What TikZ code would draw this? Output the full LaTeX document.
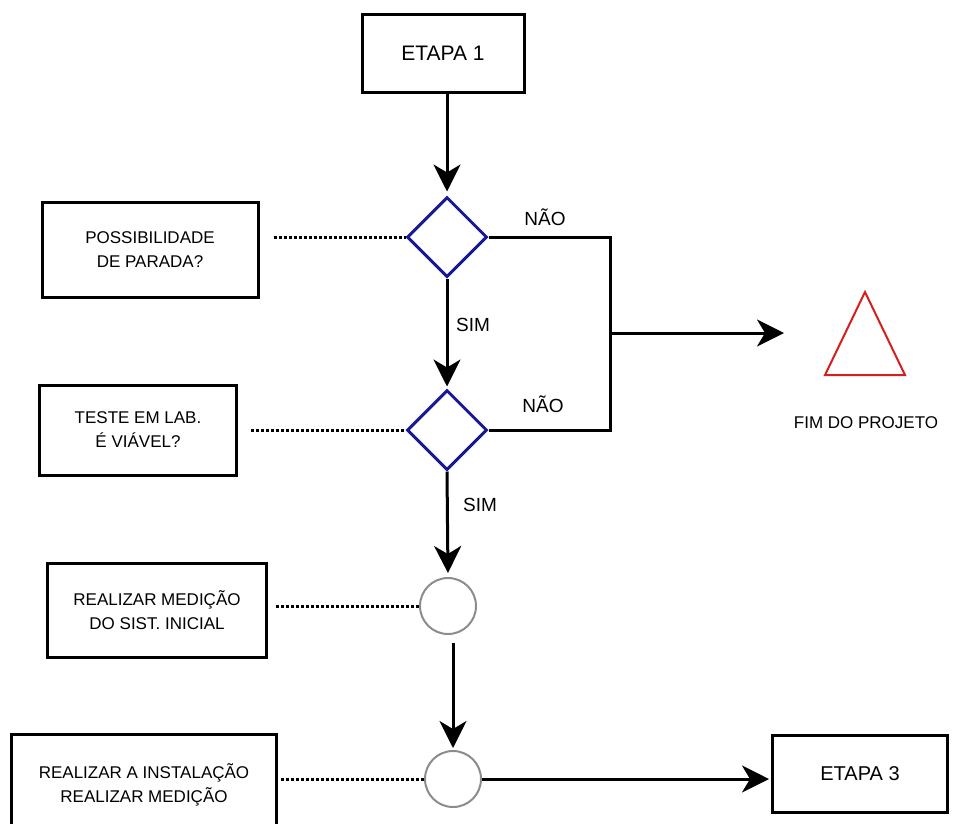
\documentclass[tikz,border=0pt]{standalone}
\usepackage{fontspec}
\setmainfont{Liberation Sans}
\usetikzlibrary{arrows.meta,shapes.geometric}
\definecolor{azul}{RGB}{25,25,150}
\definecolor{vermelho}{RGB}{215,30,30}
\definecolor{cinza}{RGB}{140,140,140}

\begin{document}
\begin{tikzpicture}[x=1pt,y=-1pt,
    caixa/.style={draw,line width=3pt,inner sep=0pt,align=center,font=\fontsize{17}{24}\selectfont},
    decisao/.style={diamond,draw=azul,line width=3pt,minimum width=80pt,minimum height=80pt,inner sep=0pt},
    evento/.style={circle,draw=cinza,line width=2pt,minimum size=56pt,inner sep=0pt},
    fluxo/.style={line width=3pt,-{Stealth[length=27pt,width=27pt,inset=8pt]}},
    liga/.style={line width=3pt},
    pontos/.style={line width=3pt,dash pattern=on 3pt off 2pt},
    rotulo/.style={font=\fontsize{19}{19}\selectfont}]
\useasboundingbox (0,0) rectangle (965,823);

% etapas
\node [caixa,minimum width=162pt,minimum height=78pt,font=\fontsize{21}{21}\selectfont] (etapa1) at (443,53) {ETAPA 1};
\node [caixa,minimum width=175pt,minimum height=77pt,font=\fontsize{20}{20}\selectfont] (etapa3) at (860,774) {ETAPA 3};

% perguntas
\node [caixa,minimum width=216pt,minimum height=95pt] (parada) at (150,250) {POSSIBILIDADE\\DE PARADA?};
\node [caixa,minimum width=197pt,minimum height=90pt] (teste) at (138,430) {TESTE EM LAB.\\É VIÁVEL?};
\node [caixa,minimum width=219pt,minimum height=94pt] (medicao) at (157,610) {REALIZAR MEDIÇÃO\\DO SIST. INICIAL};
\node [caixa,minimum width=265pt,minimum height=102pt] (instala) at (144,785) {REALIZAR A INSTALAÇÃO\\REALIZAR MEDIÇÃO};

% decisoes e eventos
\node [decisao] (d1) at (447,237) {};
\node [decisao] (d2) at (447,430) {};
\node [evento] (c1) at (448,606) {};
\node [evento] (c2) at (453,779) {};

% fim do projeto
\draw [draw=vermelho,line width=2pt,line join=miter] (825,375) -- (865,292) -- (905,375) -- cycle;
\node [font=\fontsize{17}{17}\selectfont] (fimtxt) at (866,423) {FIM DO PROJETO};
\coordinate (saida) at (612,333);
\coordinate (fimseta) at (784,333);

% ligacoes
\draw [fluxo,shorten >=4pt] (etapa1.south -| d1.north) -- (d1.north);
\draw [pontos,shorten <=14pt] (parada.east |- d1.west) -- (d1.west);
\draw [liga] (d1.east) -- ++(122,0) |- (d2.east);
\draw [fluxo] (saida) -- (fimseta);
\draw [fluxo,shorten >=2pt] (d1.south) -- (d2.north);
\draw [pontos,shorten <=13pt] (teste.east |- d2.west) -- (d2.west);
\draw [fluxo,shorten >=4pt] (d2.south) -- (c1.north);
\draw [pontos,shorten <=8pt] (medicao.east |- c1.west) -- (c1.west);
\draw [fluxo,shorten <=8pt,shorten >=2pt] (c1.south -| c2.north) -- (c2.north);
\draw [pontos,shorten <=3pt] (instala.east |- c2.west) -- (c2.west);
\draw [fluxo,shorten >=2pt] (c2.east) -- (c2.east -| etapa3.west);

% rotulos
\node [rotulo] (nao1) at (545,217) {NÃO};
\node [rotulo] (nao2) at (543,404) {NÃO};
\node [rotulo] (sim1) at (473,325) {SIM};
\node [rotulo] (sim2) at (480,505) {SIM};
\end{tikzpicture}
\end{document}
